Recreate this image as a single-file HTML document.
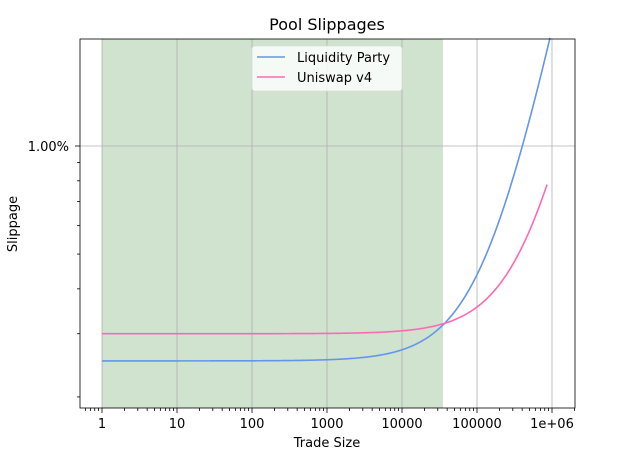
<!DOCTYPE html>
<html><head><style>body{margin:0;background:#fff}svg{display:block;font-family:"DejaVu Sans","Liberation Sans",sans-serif}</style></head>
<body>
<svg id="s" width="639" height="460" viewBox="0 0 639 460">
<rect width="639" height="460" fill="#fff"/>
<rect x="102" y="39" width="341" height="369" fill="#cfe3cf"/>
<g stroke="#b0b0b0" stroke-width="0.8">
<line x1="102" y1="39" x2="102" y2="408"/><line x1="177" y1="39" x2="177" y2="408"/>
<line x1="252" y1="39" x2="252" y2="408"/><line x1="327" y1="39" x2="327" y2="408"/>
<line x1="402" y1="39" x2="402" y2="408"/><line x1="477" y1="39" x2="477" y2="408"/>
<line x1="552" y1="39" x2="552" y2="408"/><line x1="80" y1="146" x2="575" y2="146"/>
</g>
<g id="ticks" stroke="#000" stroke-width="0.8"></g>
<path id="pb" fill="none" stroke="#6495ed" stroke-width="1.6"/>
<path id="pp" fill="none" stroke="#ff69b4" stroke-width="1.6"/>
<rect x="80" y="39" width="495" height="369" fill="none" stroke="#000" stroke-width="0.8"/>
<g font-size="13" fill="#000" text-anchor="middle">
<text x="102" y="428">1</text><text x="177" y="428">10</text><text x="252" y="428">100</text>
<text x="327" y="428">1000</text><text x="402" y="428">10000</text><text x="477" y="428">100000</text><text x="552" y="428">1e+06</text>
<text x="327" y="447">Trade Size</text>
<text x="327" y="30" font-size="16">Pool Slippages</text>
<text x="69" y="151" text-anchor="end">1.00%</text>
<text transform="translate(17,224) rotate(-90)">Slippage</text>
</g>
<rect x="252" y="46" width="150" height="45" rx="3" fill="#fff" fill-opacity="0.8" stroke="#ddd" stroke-width="0.8"/>
<line x1="257" y1="57" x2="285" y2="57" stroke="#6495ed" stroke-width="1.6"/>
<line x1="257" y1="77" x2="285" y2="77" stroke="#ff69b4" stroke-width="1.6"/>
<g font-size="13"><text x="297" y="62">Liquidity Party</text><text x="297" y="82">Uniswap v4</text></g>
</svg>
<script>
function X(t){return 102+75*Math.log10(t)}function Y(v){return 146-359*Math.log10(v)}
function path(s0,k,xe){var d="",n=300;for(var i=0;i<=n;i++){var lx=i/n*Math.log10(xe),t=Math.pow(10,lx),v=s0+k*t;d+=(i?"L":"M")+X(t).toFixed(2)+","+Y(v).toFixed(2)}return d}
document.getElementById("pb").setAttribute("d",path(0.252,1.86e-6,9.4e5));
document.getElementById("pp").setAttribute("d",path(0.3,5.6e-7,8.58e5));
var g=document.getElementById("ticks"),h="";
for(var e=0;e<=6;e++){var x=X(Math.pow(10,e));h+='<line x1="'+x+'" y1="408" x2="'+x+'" y2="413"/>';}
for(var e=-1;e<=6;e++)for(var m=2;m<10;m++){var x=X(m*Math.pow(10,e));if(x>80&&x<575)h+='<line x1="'+x+'" y1="408" x2="'+x+'" y2="411"/>';}
h+='<line x1="75" y1="146" x2="80" y2="146"/>';
[0.2,0.3,0.4,0.5,0.6,0.7,0.8,0.9].forEach(function(v){var y=Y(v);h+='<line x1="77" y1="'+y+'" x2="80" y2="'+y+'"/>';});
g.innerHTML=h;
</script>
</body></html>
